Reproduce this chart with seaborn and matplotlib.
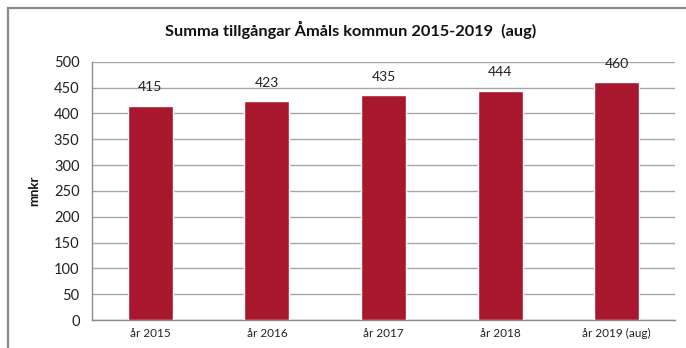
import matplotlib
matplotlib.use("Agg")
import matplotlib.pyplot as plt
import seaborn as sns
import pandas as pd
from matplotlib.patches import Rectangle

categories = ["år 2015", "år 2016", "år 2017", "år 2018", "år 2019 (aug)"]
values = [415, 423, 435, 444, 460]
y_ticks = [0, 50, 100, 150, 200, 250, 300, 350, 400, 450, 500]

title = "Summa tillgångar Åmåls kommun 2015-2019  (aug)"
y_label = "mnkr"
bar_color = "#A8172E"

sns.set_theme(style="white")
plt.rcParams["font.family"] = ["Lato", "DejaVu Sans"]

df = pd.DataFrame({"kategori": categories, "mnkr": values})

fig = plt.figure(figsize=(6.86, 3.48), dpi=100)
fig.patch.set_facecolor("white")

# outer chart frame
fig.patches.append(Rectangle((8 / 686, -0.05), 1.2, 1 - 8 / 348 + 0.05,
                             transform=fig.transFigure, fill=False,
                             edgecolor="#8a8a8a", linewidth=1.6))

ax = fig.add_axes([92 / 686, 1 - 320 / 348, (675 - 92) / 686, (320 - 61.7) / 348])
sns.barplot(data=df, x="kategori", y="mnkr", color=bar_color, width=0.386,
            saturation=1, ax=ax, zorder=3)

ax.set_ylim(0, 500)
ax.set_xlim(-0.5, len(categories) - 0.5)
ax.set_yticks(y_ticks)
ax.yaxis.grid(True, color="#a6a6a6", linewidth=1.0, zorder=0)
ax.set_axisbelow(True)
for side in ["top", "right"]:
    ax.spines[side].set_visible(False)
ax.spines["left"].set_color("#8c8c8c")
ax.spines["bottom"].set_color("#8c8c8c")
ax.spines["left"].set_linewidth(1.0)
ax.spines["bottom"].set_linewidth(1.0)

ax.tick_params(axis="y", labelsize=10.5, colors="#222222", length=0, pad=9)
ax.tick_params(axis="x", labelsize=8.5, colors="#222222", length=0, pad=6)
ax.set_xlabel("")
ax.set_ylabel(y_label, fontsize=9.5, fontweight="bold", color="#111111", labelpad=10)

for i, v in enumerate(values):
    ax.annotate(str(v), (i, v), xytext=(0, 9), textcoords="offset points",
                ha="center", va="bottom", fontsize=10, color="#222222")

fig.text(351 / 686, 1 - 30 / 348, title, ha="center", va="center",
         fontsize=11.8, fontweight="bold", color="#111111")

fig.savefig("out.png", dpi=100)
